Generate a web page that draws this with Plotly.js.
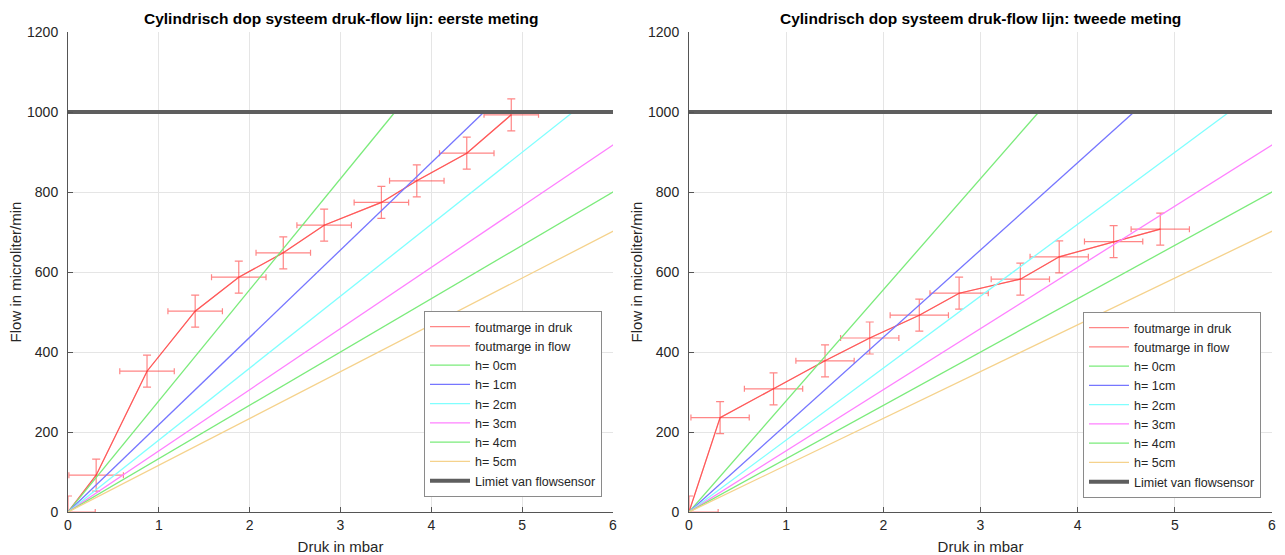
<!DOCTYPE html>
<html>
<head>
<meta charset="utf-8">
<script src="https://cdn.plot.ly/plotly-3.0.1.min.js"></script>
<style>html,body{margin:0;padding:0;background:#fff;}#chart{width:1285px;height:555px;}</style>
</head>
<body>
<div id="chart"></div>
<script>
// ---- Data ----
const titles = ["Cylindrisch dop systeem druk-flow lijn: eerste meting",
                "Cylindrisch dop systeem druk-flow lijn: tweede meting"];
const xLabel = "Druk in mbar";
const yLabel = "Flow in microliter/min";

// first measurement (druk in mbar, flow in microliter/min)
const druk1 = [0, 0.31, 0.87, 1.40, 1.88, 2.37, 2.82, 3.45, 3.84, 4.39, 4.88];
const flow1 = [0, 92, 352, 502, 587, 648, 717, 774, 828, 897, 993];
// second measurement
const druk2 = [0, 0.32, 0.87, 1.40, 1.86, 2.37, 2.78, 3.41, 3.81, 4.37, 4.85];
const flow2 = [0, 236, 308, 378, 435, 492, 547, 582, 638, 676, 707];

const drukErr = 0.3;   // mbar
const flowErr = 40;    // microliter/min

// model lines h = 0..5 cm : pressure at which flow reaches 1000
const modelNames = ["h= 0cm", "h= 1cm", "h= 2cm", "h= 3cm", "h= 4cm", "h= 5cm"];
const modelDrukAt1000 = [3.60, 4.58, 5.56, 6.54, 7.50, 8.55];
const modelFlowMax = 1000;
const modelColors = ["#7beb7b", "#7676ff", "#80ffff", "#ff80ff", "#7beb7b", "#f5d28c"];

const limitName = "Limiet van flowsensor";
const limitFlow = 1000;
const xMax = 6, yMax = 1200;

const errName1 = "foutmarge in druk";
const errName2 = "foutmarge in flow";
const red = "rgba(255,60,60,0.62)";

function buildTraces(druk, flow, xa, ya, lg) {
  const tr = [];
  tr.push({x: druk, y: flow, xaxis: xa, yaxis: ya, legend: lg, name: errName1,
    mode: "lines", line: {color: red, width: 1.2},
    error_x: {type: "constant", value: drukErr, color: red, thickness: 1.2, width: 3}});
  tr.push({x: druk, y: flow, xaxis: xa, yaxis: ya, legend: lg, name: errName2,
    mode: "lines", line: {color: red, width: 1.2},
    error_y: {type: "constant", value: flowErr, color: red, thickness: 1.2, width: 4}});
  modelNames.forEach((n, i) => {
    tr.push({x: [0, modelDrukAt1000[i]], y: [0, modelFlowMax], xaxis: xa, yaxis: ya, legend: lg,
      name: n, mode: "lines", line: {color: modelColors[i], width: 1.3}});
  });
  tr.push({x: [0, xMax], y: [limitFlow, limitFlow], xaxis: xa, yaxis: ya, legend: lg,
    name: limitName, mode: "lines", line: {color: "#5e5e5e", width: 4}});
  return tr;
}

const data = buildTraces(druk1, flow1, "x", "y", "legend")
  .concat(buildTraces(druk2, flow2, "x2", "y2", "legend2"));

const W = 1285, H = 555;
const font = "Liberation Sans, Arial, Helvetica, sans-serif";
const tickFont = {family: font, size: 14, color: "#262626"};
function xax(d, anchor) {
  return {domain: d, anchor: anchor, range: [0, xMax], dtick: 1, autorange: false,
    showgrid: true, gridcolor: "#e5e5e5", gridwidth: 1, zeroline: false,
    showline: true, linecolor: "#555", linewidth: 1, ticks: "inside", ticklen: 5, tickcolor: "#555",
    tickfont: tickFont, automargin: false,
    title: {text: xLabel, font: {family: font, size: 15, color: "#262626"}, standoff: 10}};
}
function yax(d, anchor) {
  return {domain: d, anchor: anchor, range: [0, yMax], dtick: 200, autorange: false,
    showgrid: true, gridcolor: "#e5e5e5", gridwidth: 1, zeroline: false,
    showline: true, linecolor: "#555", linewidth: 1, ticks: "inside", ticklen: 5, tickcolor: "#555",
    tickfont: tickFont, automargin: false, ticklabelstandoff: 6,
    title: {text: yLabel, font: {family: font, size: 15, color: "#262626"}, standoff: 1}};
}
const yDom = [43 / H, 523 / H];
const legendBase = {bgcolor: "#fff", bordercolor: "#8a8a8a", borderwidth: 1,
  font: {family: font, size: 12.5, color: "#262626"}, xanchor: "right", yanchor: "bottom",
  tracegroupgap: 0, itemwidth: 40};

const layout = {
  width: W, height: H, margin: {l: 0, r: 0, t: 0, b: 0},
  paper_bgcolor: "#fff", plot_bgcolor: "#fff", showlegend: true,
  xaxis: xax([68 / W, 613 / W], "y"),
  yaxis: yax(yDom, "x"),
  xaxis2: xax([689 / W, 1272 / W], "y2"),
  yaxis2: yax(yDom, "x2"),
  legend: Object.assign({}, legendBase, {x: 602 / W, y: 58 / H}),
  legend2: Object.assign({}, legendBase, {x: 1261 / W, y: 57 / H}),
  annotations: [
    {text: "<b>" + titles[0] + "</b>", xref: "paper", yref: "paper", x: 340.5 / W, y: (H - 18) / H,
      xanchor: "center", yanchor: "middle", showarrow: false, font: {family: font, size: 15.5, color: "#000"}},
    {text: "<b>" + titles[1] + "</b>", xref: "paper", yref: "paper", x: 980.5 / W, y: (H - 18) / H,
      xanchor: "center", yanchor: "middle", showarrow: false, font: {family: font, size: 15.5, color: "#000"}}
  ]
};

Plotly.newPlot("chart", data, layout, {displayModeBar: false, staticPlot: true});
</script>
</body>
</html>
